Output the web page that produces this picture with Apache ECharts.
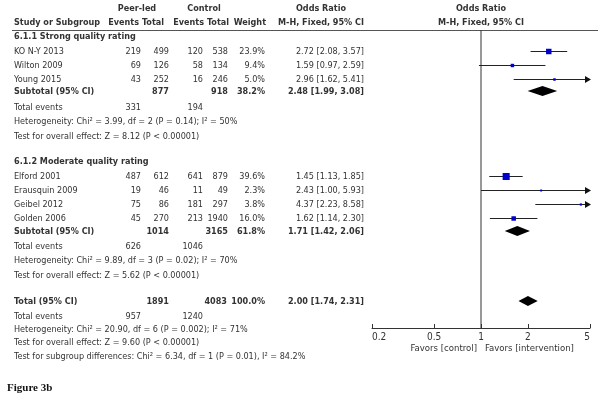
<!DOCTYPE html>
<html><head><meta charset="utf-8">
<script src="https://cdn.jsdelivr.net/npm/echarts@6/dist/echarts.min.js"></script>
<style>html,body{margin:0;padding:0;background:#fff}#c{width:604px;height:406px}</style>
</head><body><div id="c"></div>
<script>
// ---------- DATA ----------
const groupTitles = ['6.1.1 Strong quality rating', '6.1.2 Moderate quality rating'];
const studyNames = ['KO N-Y 2013', 'Wilton 2009', 'Young 2015', 'Elford 2001', 'Erausquin 2009', 'Geibel 2012', 'Golden 2006'];
const peerEvents = [219, 69, 43, 487, 19, 75, 45];
const peerTotal = [499, 126, 252, 612, 46, 86, 270];
const ctrlEvents = [120, 58, 16, 641, 11, 181, 213];
const ctrlTotal = [538, 134, 246, 879, 49, 297, 1940];
const studyWeight = [23.9, 9.4, 5.0, 39.6, 2.3, 3.8, 16.0];
const studyOR = [2.72, 1.59, 2.96, 1.45, 2.43, 4.37, 1.62];
const studyLo = [2.08, 0.97, 1.62, 1.13, 1.00, 2.23, 1.14];
const studyHi = [3.57, 2.59, 5.41, 1.85, 5.93, 8.58, 2.30];

const subPeerTotal = [877, 1014];
const subCtrlTotal = [918, 3165];
const subWeight = [38.2, 61.8];
const subOR = [2.48, 1.71];
const subLo = [1.99, 1.42];
const subHi = [3.08, 2.06];
const subPeerEvents = [331, 626];
const subCtrlEvents = [194, 1046];
const subChi2 = ['3.99', '9.89'];
const subDf = [2, 3];
const subP = ['0.14', '0.02'];
const subI2 = [50, 70];
const subZ = ['8.12', '5.62'];

const totPeerTotal = 1891, totCtrlTotal = 4083, totWeight = '100.0';
const totOR = 2.00, totLo = 1.74, totHi = 2.31;
const totPeerEvents = 957, totCtrlEvents = 1240;
const totChi2 = '20.90', totDf = 6, totP = '0.002', totI2 = 71, totZ = '9.60';
const diffChi2 = '6.34', diffDf = 1, diffP = '0.01', diffI2 = '84.2';

const xTicks = [0.2, 0.5, 1, 2, 5];
const xLabelLeft = 'Favors [control]';
const xLabelRight = 'Favors [intervention]';

// ---------- LAYOUT ----------
const FONT = "'Liberation Sans Narrow','Arial Narrow','DejaVu Sans Condensed',sans-serif";
const FS = 9;
const TXT = '#333333';
const groupTitleY = [37, 162];
const studyRowY = [52, 66, 80, 177, 191, 205, 219];
const subRowY = [92, 232];
const subEventsY = [108, 247];
const subHetY = [122, 261];
const subTestY = [137, 276];
const totRowY = 302, totEventsY = 317, totHetY = 330, totTestY = 343, diffY = 357;
const col = {name: 14, pe: 141, pt: 169, ce: 203, ct: 228, w: 265, or: 364};

const fmt2 = v => v.toFixed(2);
const orText = (o, l, h) => `${fmt2(o)} [${fmt2(l)}, ${fmt2(h)}]`;

const texts = [];
function T(x, y, s, align, bold, size) {
  texts.push({
    type: 'text', x: x, y: y, silent: true,
    style: {text: String(s), fill: TXT, font: (bold ? 'bold ' : '') + (size || FS) + 'px ' + FONT,
      align: align || 'left', verticalAlign: 'middle', textAlign: align || 'left', textVerticalAlign: 'middle'}
  });
}
// header
T(137, 9, 'Peer-led', 'center', true);
T(204, 9, 'Control', 'center', true);
T(321, 9, 'Odds Ratio', 'center', true);
T(481, 9, 'Odds Ratio', 'center', true);
T(col.name, 23, 'Study or Subgroup', 'left', true);
T(139, 23, 'Events', 'right', true);
T(164, 23, 'Total', 'right', true);
T(col.ce + 1, 23, 'Events', 'right', true);
T(col.ct + 1, 23, 'Total', 'right', true);
T(col.w + 1, 23, 'Weight', 'right', true);
T(321, 23, 'M-H, Fixed, 95% CI', 'center', true);
T(481, 23, 'M-H, Fixed, 95% CI', 'center', true);

studyNames.forEach((n, i) => {
  const y = studyRowY[i];
  T(col.name, y, n);
  T(col.pe, y, peerEvents[i], 'right');
  T(col.pt, y, peerTotal[i], 'right');
  T(col.ce, y, ctrlEvents[i], 'right');
  T(col.ct, y, ctrlTotal[i], 'right');
  T(col.w, y, studyWeight[i].toFixed(1) + '%', 'right');
  T(col.or, y, orText(studyOR[i], studyLo[i], studyHi[i]), 'right');
});
groupTitles.forEach((g, k) => {
  T(col.name, groupTitleY[k], g, 'left', true);
  T(col.name, subRowY[k], 'Subtotal (95% CI)', 'left', true);
  T(col.pt, subRowY[k], subPeerTotal[k], 'right', true);
  T(col.ct, subRowY[k], subCtrlTotal[k], 'right', true);
  T(col.w, subRowY[k], subWeight[k].toFixed(1) + '%', 'right', true);
  T(col.or, subRowY[k], orText(subOR[k], subLo[k], subHi[k]), 'right', true);
  T(col.name, subEventsY[k], 'Total events');
  T(col.pe, subEventsY[k], subPeerEvents[k], 'right');
  T(col.ce, subEventsY[k], subCtrlEvents[k], 'right');
  T(col.name, subHetY[k], `Heterogeneity: Chi\u00b2 = ${subChi2[k]}, df = ${subDf[k]} (P = ${subP[k]}); I\u00b2 = ${subI2[k]}%`);
  T(col.name, subTestY[k], `Test for overall effect: Z = ${subZ[k]} (P < 0.00001)`);
});
T(col.name, totRowY, 'Total (95% CI)', 'left', true);
T(col.pt, totRowY, totPeerTotal, 'right', true);
T(col.ct - 1, totRowY, totCtrlTotal, 'right', true);
T(col.w, totRowY, totWeight + '%', 'right', true);
T(col.or, totRowY, orText(totOR, totLo, totHi), 'right', true);
T(col.name, totEventsY, 'Total events');
T(col.pe, totEventsY, totPeerEvents, 'right');
T(col.ce, totEventsY, totCtrlEvents, 'right');
T(col.name, totHetY, `Heterogeneity: Chi\u00b2 = ${totChi2}, df = ${totDf} (P = ${totP}); I\u00b2 = ${totI2}%`);
T(col.name, totTestY, `Test for overall effect: Z = ${totZ} (P < 0.00001)`);
T(col.name, diffY, `Test for subgroup differences: Chi\u00b2 = ${diffChi2}, df = ${diffDf} (P = ${diffP}), I\u00b2 = ${diffI2}%`);
T(477, 349, xLabelLeft, 'right', false, 9.5);
T(485, 349, xLabelRight, 'left', false, 9.5);
texts.push({type: 'text', x: 7, y: 388, silent: true,
  style: {text: 'Figure 3b', fill: '#111', font: "bold 11px 'Liberation Serif','Times New Roman',serif",
    align: 'left', verticalAlign: 'middle', textAlign: 'left', textVerticalAlign: 'middle'}});
texts.push({type: 'line', silent: true, shape: {x1: 12, y1: 30.5, x2: 598, y2: 30.5}, style: {stroke: '#555', lineWidth: 1}});

const XMIN = 0.2, XMAX = 5;
const studyData = studyNames.map((n, i) => [studyOR[i], studyRowY[i], studyLo[i], studyHi[i], studyWeight[i]]);
const diamondData = subOR.map((o, k) => [o, subRowY[k], subLo[k], subHi[k]]).concat([[totOR, totRowY, totLo, totHi]]);

function renderStudy(params, api) {
  const o = api.value(0), y = api.value(1), lo = api.value(2), hi = api.value(3), w = api.value(4);
  const pl = api.coord([Math.max(lo, XMIN), y]);
  const ph = api.coord([Math.min(hi, XMAX), y]);
  const pc = api.coord([o, y]);
  const yy = Math.round(pc[1]) - 0.5;
  const ch = [{type: 'line', shape: {x1: pl[0], y1: yy, x2: ph[0], y2: yy}, style: {stroke: '#222', lineWidth: 1}}];
  if (hi > XMAX) {
    ch.push({type: 'polygon', shape: {points: [[ph[0] + 1, yy], [ph[0] - 5, yy - 3.5], [ph[0] - 5, yy + 3.5]]}, style: {fill: '#111'}});
  }
  const s = Math.max(2, 1.12 * Math.sqrt(w));
  ch.push({type: 'rect', shape: {x: pc[0] - s / 2, y: yy - s / 2, width: s, height: s}, style: {fill: '#0000cc'}});
  return {type: 'group', children: ch};
}
function renderDiamond(params, api) {
  const o = api.value(0), y = api.value(1), lo = api.value(2), hi = api.value(3);
  const pl = api.coord([lo, y]), pc = api.coord([o, y]), ph = api.coord([hi, y]);
  const h = 5, cy = pc[1] - 1;
  return {type: 'polygon', shape: {points: [[pl[0], cy], [pc[0], cy - h], [ph[0], cy], [pc[0], cy + h]]}, style: {fill: '#000'}};
}

const chart = echarts.init(document.getElementById('c'), null, {renderer: 'canvas'});
chart.setOption({
  animation: false,
  backgroundColor: '#fff',
  grid: {left: 372, right: 14, top: 30, bottom: 78, containLabel: false},
  xAxis: {
    type: 'log', logBase: 10, min: XMIN, max: XMAX,
    axisLine: {show: true, onZero: false, lineStyle: {color: '#333', width: 1}},
    axisTick: {show: true, inside: true, length: 4, customValues: xTicks, lineStyle: {color: '#333'}},
    axisLabel: {show: true, customValues: xTicks, margin: 4, fontSize: 10, fontFamily: FONT, color: TXT,
      alignMinLabel: 'left', alignMaxLabel: 'right', formatter: v => String(+(+v).toPrecision(3))},
    splitLine: {show: false}, minorTick: {show: false}
  },
  yAxis: {type: 'value', min: 30, max: 328, inverse: true, show: false, splitLine: {show: false}},
  series: [
    {type: 'line', data: [[1, 30], [1, 328]], symbol: 'none', silent: true,
      lineStyle: {color: '#333', width: 1}, z: 1},
    {type: 'custom', renderItem: renderStudy, data: studyData, z: 3, silent: true},
    {type: 'custom', renderItem: renderDiamond, data: diamondData, z: 3, silent: true}
  ],
  graphic: texts
});
</script></body></html>
